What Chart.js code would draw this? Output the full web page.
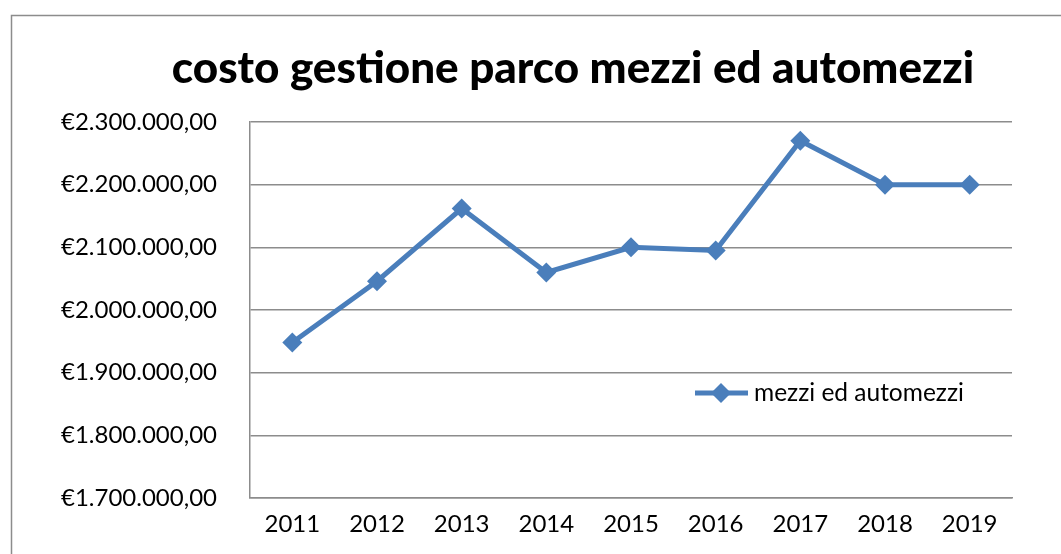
<!DOCTYPE html>
<html>
<head>
<meta charset="utf-8">
<script src="https://cdn.jsdelivr.net/npm/chart.js@4.4.1/dist/chart.umd.min.js"></script>
<style>
html,body{margin:0;padding:0;background:#fff;}
#wrap{position:relative;width:1061px;height:554px;}
canvas{display:block;}
</style>
</head>
<body>
<div id="wrap"><canvas id="c" width="1061" height="554"></canvas></div>
<script>
const titleText = "costo gestione parco mezzi ed automezzi";
const seriesLabel = "mezzi ed automezzi";
const years = ["2011","2012","2013","2014","2015","2016","2017","2018","2019"];
const costs = [1948000, 2046000, 2162000, 2060000, 2100000, 2095000, 2270000, 2200000, 2200000];
const yMin = 1700000, yMax = 2300000, yStep = 100000;

const FONT = "Lato, 'Open Sans', sans-serif";
const BLUE = "#4A7EBB";
const GRID = "#8C8C8C";

function euro(v){
  const s = Math.round(v).toString().replace(/\B(?=(\d{3})+(?!\d))/g, ".");
  return "€" + s + ",00";
}

const decor = {
  id: "decor",
  afterDraw(chart){
    const ctx = chart.ctx;
    ctx.save();
    // outer frame
    ctx.strokeStyle = "#8C8C8C";
    ctx.lineWidth = 1.5;
    ctx.strokeRect(11.5, 15.5, 1200, 700);
    // title
    ctx.fillStyle = "#000";
    ctx.font = "900 44px " + FONT;
    ctx.textAlign = "center";
    ctx.textBaseline = "middle";
    ctx.fillText(titleText, 573, 69);
    // legend inside plot
    const ly = 393;
    ctx.strokeStyle = BLUE;
    ctx.lineWidth = 5;
    ctx.beginPath();
    ctx.moveTo(695, ly);
    ctx.lineTo(748, ly);
    ctx.stroke();
    ctx.fillStyle = BLUE;
    ctx.beginPath();
    const r = 10;
    ctx.moveTo(721, ly - r); ctx.lineTo(721 + r, ly); ctx.lineTo(721, ly + r); ctx.lineTo(721 - r, ly);
    ctx.closePath();
    ctx.fill();
    ctx.fillStyle = "#000";
    ctx.font = "24.5px " + FONT;
    ctx.textAlign = "left";
    ctx.fillText(chart.data.datasets[0].label, 754, ly);
    ctx.restore();
  }
};

new Chart(document.getElementById("c"), {
  type: "line",
  data: {
    labels: years,
    datasets: [{
      label: seriesLabel,
      data: costs,
      borderColor: BLUE,
      backgroundColor: BLUE,
      borderWidth: 5,
      pointStyle: "rectRot",
      pointRadius: 10,
      pointHoverRadius: 10,
      pointBackgroundColor: BLUE,
      pointBorderWidth: 0,
      tension: 0
    }]
  },
  options: {
    responsive: false,
    animation: false,
    devicePixelRatio: 1,
    layout: { padding: { top: 122, right: 49, left: 0, bottom: 0 } },
    plugins: {
      legend: { display: false },
      title: { display: false },
      tooltip: { enabled: false }
    },
    scales: {
      x: {
        offset: true,
        grid: { display: false, drawTicks: false },
        border: { display: true, color: GRID, width: 1.5 },
        ticks: { color: "#000", font: { family: FONT, size: 24 }, padding: 12, maxRotation: 0 },
        afterFit(s){ s.height = 56; }
      },
      y: {
        min: yMin, max: yMax,
        grid: { color: GRID, lineWidth: 1.5, drawTicks: false },
        border: { display: true, color: GRID, width: 1.5 },
        ticks: {
          stepSize: yStep,
          color: "#000",
          font: { family: FONT, size: 24 },
          padding: 33,
          callback: v => euro(v)
        },
        afterFit(s){ s.width = 250; }
      }
    }
  },
  plugins: [decor]
});
</script>
</body>
</html>
